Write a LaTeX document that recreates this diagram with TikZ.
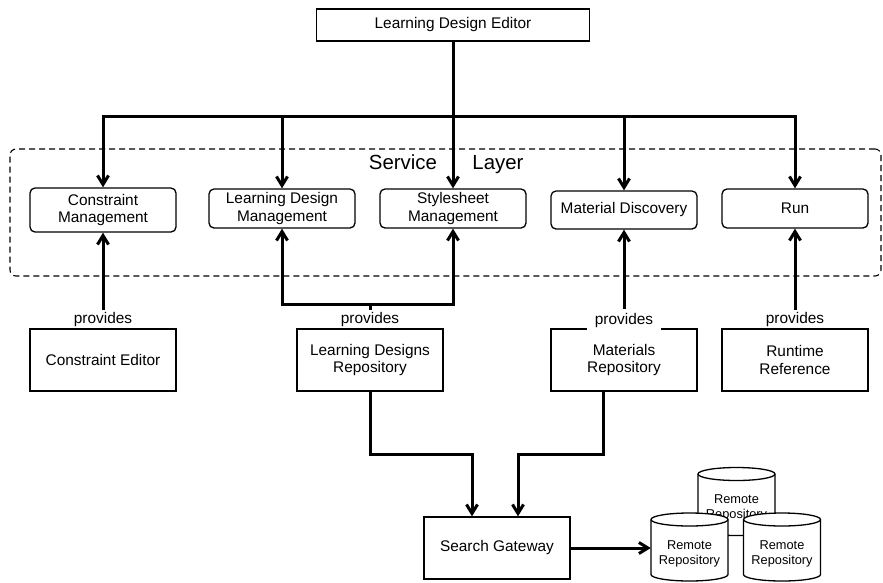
\documentclass[tikz,border=0pt]{standalone}
\usepackage{fontspec}
\setmainfont{Liberation Sans}
\usetikzlibrary{arrows.meta}

% database drum: 77pt wide, 68pt tall, centred on the pic origin
\tikzset{
  dbcyl/.pic={
    \draw[line width=1.3pt, fill=white]
      (-38.5,-27.5) -- (-38.5,27.5)
      arc[start angle=180, end angle=360, x radius=38.5pt, y radius=6.5pt]
      -- (38.5,-27.5)
      arc[start angle=0, end angle=180, x radius=38.5pt, y radius=6.5pt]
      -- cycle;
    \draw[line width=1.3pt] (-38.5,-27.5)
      arc[start angle=180, end angle=360, x radius=38.5pt, y radius=6.5pt];
  }
}

\begin{document}
\begin{tikzpicture}[x=1pt, y=-1pt,
  every node/.style={font=\fontsize{15.4}{17.7}\selectfont, align=center, inner sep=0pt},
  plainbox/.style={draw, line width=1.3pt, minimum width=146pt, minimum height=62pt},
  svcbox/.style={draw, line width=1.3pt, rounded corners=5pt, minimum width=146pt, minimum height=39pt},
  layerbox/.style={draw, line width=1.1pt, dash pattern=on 6pt off 4pt, rounded corners=6pt},
  link/.style={line width=3pt},
  arr/.style={link, -{Straight Barb[length=9pt, width=11pt]}},
  provlabel/.style={fill=white, inner xsep=2pt, inner ysep=2pt, anchor=base},
  layerlabel/.style={font=\fontsize{20.4}{24}\selectfont, anchor=base},
  remotetext/.style={font=\fontsize{12.8}{15}\selectfont, minimum width=77pt, minimum height=68pt},
]
\useasboundingbox (0,0) rectangle (883,582);

% service layer frame
\node[layerbox, minimum width=871pt, minimum height=127pt] (layer) at (445.5,212.5) {};
\node[layerlabel] (svcword) at (403,169) {Service};
\node[layerlabel] (lyrword) at (498,169) {Layer};

% editor
\node[plainbox, minimum width=273pt, minimum height=32pt] (lde) at (453,25) {Learning Design Editor};

% services
\node[svcbox, minimum height=44pt] (cm) at (103,210) {Constraint\\Management};
\node[svcbox] (ldm) at (282,208.5) {Learning Design\\Management};
\node[svcbox] (ssm) at (453,208.5) {Stylesheet\\Management};
\node[svcbox, minimum height=38pt] (md) at (624,210) {Material Discovery};
\node[svcbox] (run) at (795,208.5) {Run};

% providers
\node[plainbox] (ce) at (103,360) {Constraint Editor};
\node[plainbox] (ldr) at (370,360) {Learning Designs\\Repository};
\node[plainbox] (mr) at (624,360) {Materials\\Repository};
\node[plainbox] (rt) at (795,360) {Runtime\\Reference};

% gateway
\node[plainbox] (sg) at (497,548) {Search Gateway};

% remote repositories
\pic at (736.5,501.5) {dbcyl};
\node[remotetext] (rrb) at (736.5,508) {Remote\\Repository};
\pic at (689.5,547) {dbcyl};
\pic at (782,547) {dbcyl};
\node[remotetext] (rra) at (689.5,554) {Remote\\Repository};
\node[remotetext] (rrc) at (782,554) {Remote\\Repository};

% editor to services
\coordinate (topbar) at (453,116);
\draw[link] (lde.south) -- (topbar);
\draw[arr] (topbar) -- (ssm.north);
\draw[arr] (topbar) -| (cm.north);
\draw[arr] (topbar) -| (ldm.north);
\draw[arr] (topbar) -| (md.north);
\draw[arr] (topbar) -| (run.north);

% providers to services
\coordinate (ldrjoin) at (370,304);
\draw[arr] (ce.north) -- (cm.south);
\draw[link] (ldr.north) -- (ldrjoin);
\draw[arr] (ldrjoin) -| (ldm.south);
\draw[arr] (ldrjoin) -| (ssm.south);
\draw[arr] (mr.north) -- (md.south);
\draw[arr] (rt.north) -- (run.south);

% repositories to gateway
\draw[arr] (ldr.south) -- ++(0,63) -| ([xshift=-25pt]sg.north);
\draw[arr] ([xshift=-21pt]mr.south) -- ++(0,63) -| ([xshift=21pt]sg.north);
\draw[arr] (sg.east) -- (sg.east -| rra.west);

% "provides" labels
\node[provlabel] (pce) at (103,323) {provides};
\node[provlabel] (pldr) at (370,323) {provides};
\node[provlabel] (prt) at (795,323) {provides};
\node[provlabel, inner xsep=8pt, inner ysep=3.5pt] (pmr) at (624,324) {provides};
\end{tikzpicture}
\end{document}
